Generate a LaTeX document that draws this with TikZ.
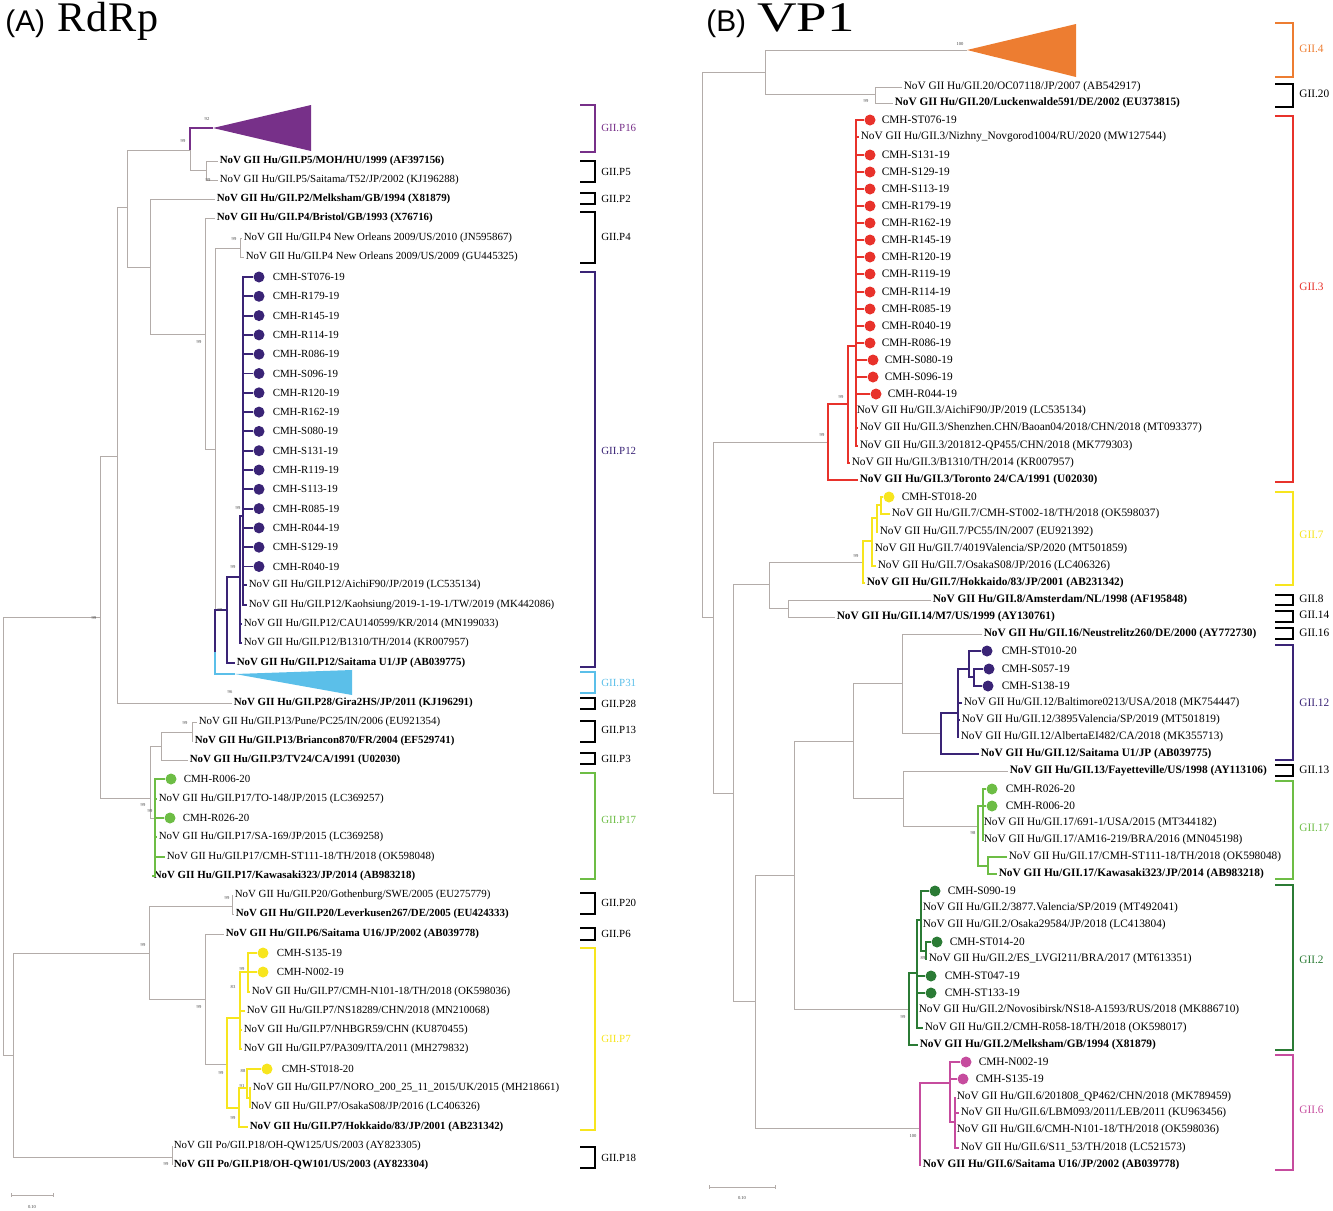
\documentclass[tikz,border=0pt]{standalone}
\usepackage{fontspec}
\setmainfont{Liberation Serif}
\newfontfamily\headsans{Liberation Sans}
\usetikzlibrary{calc}

\definecolor{grbr}{HTML}{B3ACA9}
\definecolor{pviolet}{HTML}{773089}
\definecolor{pindigo}{HTML}{3A2476}
\definecolor{pcyan}{HTML}{5BBFE9}
\definecolor{plime}{HTML}{6DBD45}
\definecolor{pyellow}{HTML}{F7E51E}
\definecolor{porange}{HTML}{ED7D31}
\definecolor{pred}{HTML}{E8322B}
\definecolor{pgreen}{HTML}{2B7B35}
\definecolor{pmagenta}{HTML}{C64C9E}

\tikzset{
  br/.style={draw=grbr, line width=0.55pt},
  cbr/.style={line width=1.1pt},
  leaf/.style={anchor=west, inner sep=0.8pt, font=\fontsize{6.2}{7}\selectfont},
  bleaf/.style={leaf, font=\fontsize{6.2}{7}\selectfont\bfseries},
  rleaf/.style={anchor=west, inner sep=0.8pt, font=\fontsize{6.45}{7}\selectfont},
  rbleaf/.style={rleaf, font=\fontsize{6.45}{7}\selectfont\bfseries},
  dot/.style={circle, inner sep=0pt, minimum size=0.22cm},
  bs/.style={font=\fontsize{2.6}{3}\selectfont, inner sep=0pt, text=black!75},
  brk/.style={line width=1.1pt},
  clab/.style={anchor=west, inner sep=0pt, font=\fontsize{6.2}{7}\selectfont},
  rclab/.style={anchor=west, inner sep=0pt, font=\fontsize{6.45}{7}\selectfont},
}

\begin{document}
\begin{tikzpicture}[x=0.02cm, y=-0.02cm]
\useasboundingbox (0,0) rectangle (1333,1211);

% headers
\node[anchor=base west, inner sep=0, font=\headsans\fontsize{17}{18}\selectfont] (hA) at (5,31) {(A)};
\node[anchor=base west, inner sep=0, font=\fontsize{24}{25}\selectfont\addfontfeatures{LetterSpace=2}] (hAt) at (57,31) {RdRp};
\node[anchor=base west, inner sep=0, font=\headsans\fontsize{17}{18}\selectfont] (hB) at (706,31) {(B)};
\node[anchor=base west, inner sep=0, font=\fontsize{24}{25}\selectfont] (hBt) at (757,31) {\scalebox{1.3}[1]{VP1}};

% ---------------- (A) RdRp ----------------
\coordinate (rA) at (3,836);
\coordinate (aQ) at (13,1055);
\coordinate (aD) at (100,617);
\coordinate (aC) at (117,456);
\coordinate (aJ) at (127,207);
\coordinate (aK) at (190,150);
\coordinate (aP5) at (206,170);
\coordinate (aL) at (150,267);
\coordinate (aA) at (205,334);
\coordinate (aB) at (215,449);
\coordinate (aP4) at (240,248);
\coordinate (aPP) at (215,652);
\coordinate (aP12) at (227,610);
\coordinate (aP12m) at (240,577);
\coordinate (lcomb) at (243,516);
\coordinate (aE) at (150,798);
\coordinate (aF) at (161,746);
\coordinate (aP13) at (192,732);
\coordinate (aP17) at (155,818);
\coordinate (aG) at (149,953);
\coordinate (aP20) at (232,906);
\coordinate (aH) at (205,999);
\coordinate (aP7) at (227,1064);
\coordinate (aP7g) at (240,1018);
\coordinate (aP7f) at (248,972);
\coordinate (aP7c) at (239,1108);
\coordinate (aP7d) at (247,1088);
\coordinate (aP7e) at (250,1098);
\coordinate (aP18) at (172,1157);
\coordinate (t16) at (213,128);
\coordinate (t31) at (235,674);

% collapsed clades
\fill[pviolet] (t16) -- (311,105) -- (311,151) -- cycle;
\fill[pcyan] (t31) -- (352,670) -- (352,695) -- cycle;

% leaves
\node[bleaf] (P5a) at (218,161) {NoV GII Hu/GII.P5/MOH/HU/1999 (AF397156)};
\node[leaf] (P5b) at (218,180) {NoV GII Hu/GII.P5/Saitama/T52/JP/2002 (KJ196288)};
\node[bleaf] (P2) at (215,199) {NoV GII Hu/GII.P2/Melksham/GB/1994 (X81879)};
\node[bleaf] (P4a) at (215,218) {NoV GII Hu/GII.P4/Bristol/GB/1993 (X76716)};
\node[leaf] (P4b) at (242,238) {NoV GII Hu/GII.P4 New Orleans 2009/US/2010 (JN595867)};
\node[leaf] (P4c) at (244,257) {NoV GII Hu/GII.P4 New Orleans 2009/US/2009 (GU445325)};
\node[leaf] (P12a) at (247,585) {NoV GII Hu/GII.P12/AichiF90/JP/2019 (LC535134)};
\node[leaf] (P12b) at (247,605) {NoV GII Hu/GII.P12/Kaohsiung/2019-1-19-1/TW/2019 (MK442086)};
\node[leaf] (P12c) at (242,624) {NoV GII Hu/GII.P12/CAU140599/KR/2014 (MN199033)};
\node[leaf] (P12d) at (242,643) {NoV GII Hu/GII.P12/B1310/TH/2014 (KR007957)};
\node[bleaf] (P12e) at (235,663) {NoV GII Hu/GII.P12/Saitama U1/JP (AB039775)};
\node[bleaf] (P28) at (232,703) {NoV GII Hu/GII.P28/Gira2HS/JP/2011 (KJ196291)};
\node[leaf] (P13a) at (197,722) {NoV GII Hu/GII.P13/Pune/PC25/IN/2006 (EU921354)};
\node[bleaf] (P13b) at (193,741) {NoV GII Hu/GII.P13/Briancon870/FR/2004 (EF529741)};
\node[bleaf] (P3) at (188,760) {NoV GII Hu/GII.P3/TV24/CA/1991 (U02030)};
\node[dot,fill=plime] (gdA) at (171,779) {};
\node[leaf] (gtA) at (182,779) {CMH-R006-20};
\node[leaf] (P17a) at (157,799) {NoV GII Hu/GII.P17/TO-148/JP/2015 (LC369257)};
\node[dot,fill=plime] (gdB) at (170,818) {};
\node[leaf] (gtB) at (181,818) {CMH-R026-20};
\node[leaf] (P17b) at (157,837) {NoV GII Hu/GII.P17/SA-169/JP/2015 (LC369258)};
\node[leaf] (P17c) at (165,857) {NoV GII Hu/GII.P17/CMH-ST111-18/TH/2018 (OK598048)};
\node[bleaf] (P17d) at (152,876) {NoV GII Hu/GII.P17/Kawasaki323/JP/2014 (AB983218)};
\node[leaf] (P20a) at (233,895) {NoV GII Hu/GII.P20/Gothenburg/SWE/2005 (EU275779)};
\node[bleaf] (P20b) at (234,914) {NoV GII Hu/GII.P20/Leverkusen267/DE/2005 (EU424333)};
\node[bleaf] (P6) at (224,934) {NoV GII Hu/GII.P6/Saitama U16/JP/2002 (AB039778)};
\node[dot,fill=pyellow] (ydS) at (263,953) {};
\node[leaf] (ytS) at (275,953) {CMH-S135-19};
\node[dot,fill=pyellow] (ydN) at (263,972) {};
\node[leaf] (ytN) at (275,972) {CMH-N002-19};
\node[leaf] (P7a) at (250,992) {NoV GII Hu/GII.P7/CMH-N101-18/TH/2018 (OK598036)};
\node[leaf] (P7b) at (245,1011) {NoV GII Hu/GII.P7/NS18289/CHN/2018 (MN210068)};
\node[leaf] (P7c) at (242,1030) {NoV GII Hu/GII.P7/NHBGR59/CHN (KU870455)};
\node[leaf] (P7d) at (242,1049) {NoV GII Hu/GII.P7/PA309/ITA/2011 (MH279832)};
\node[dot,fill=pyellow] (ydT) at (267,1069) {};
\node[leaf] (ytT) at (280,1069) {CMH-ST018-20};
\node[leaf] (P7e) at (251,1088) {NoV GII Hu/GII.P7/NORO\_200\_25\_11\_2015/UK/2015 (MH218661)};
\node[leaf] (P7f) at (249,1107) {NoV GII Hu/GII.P7/OsakaS08/JP/2016 (LC406326)};
\node[bleaf] (P7g) at (248,1127) {NoV GII Hu/GII.P7/Hokkaido/83/JP/2001 (AB231342)};
\node[leaf] (P18a) at (172,1146) {NoV GII Po/GII.P18/OH-QW125/US/2003 (AY823305)};
\node[bleaf] (P18b) at (172,1165) {NoV GII Po/GII.P18/OH-QW101/US/2003 (AY823304)};

% gray backbone
\draw[br] (rA) |- (aD) (rA) |- (aQ);
\draw[br] (aQ) |- (aG) (aQ) |- (aP18);
\draw[br] (aP18) |- (P18a.west) (aP18) |- (P18b.west);
\draw[br] (aD) |- (aC) (aD) |- (aE);
\draw[br] (aC) |- (aJ) (aC) |- (P28.west);
\draw[br] (aJ) |- (aK) (aJ) |- (aL);
\draw[br] (aK) |- (aP5);
\draw[br] (aP5) |- (P5a.west) (aP5) |- (P5b.west);
\draw[br] (aL) |- (P2.west) (aL) |- (aA);
\draw[br] (aA) |- (P4a.west) (aA) |- (aB);
\draw[br] (aB) |- (aP4) (aB) |- (aPP);
\draw[br] (aP4) |- (P4b.west) (aP4) |- (P4c.west);
\draw[br] (aE) |- (aF) (aE) |- (aP17);
\draw[br] (aF) |- (aP13) (aF) |- (P3.west);
\draw[br] (aP13) |- (P13a.west) (aP13) |- (P13b.west);
\draw[br] (aG) |- (aP20) (aG) |- (aH);
\draw[br] (aP20) |- (P20a.west) (aP20) |- (P20b.west);
\draw[br] (aH) |- (P6.west) (aH) |- (aP7);

% coloured clades
\draw[cbr,pviolet] (aK) |- (t16);
\draw[cbr,pcyan] (aPP) |- (t31);
\draw[cbr,pindigo] (aPP) |- (aP12);
\draw[cbr,pindigo] (aP12) |- (aP12m) (aP12) |- (P12e.west);
\draw[cbr,pindigo] (aP12m) |- (lcomb) (aP12m) |- (P12c.west) (aP12m) |- (P12d.west);
\draw[cbr,pindigo] (lcomb) |- (P12a.west) (lcomb) |- (P12b.west);
\foreach \nm [count=\i] in {ST076-19,R179-19,R145-19,R114-19,R086-19,S096-19,R120-19,R162-19,S080-19,S131-19,R119-19,S113-19,R085-19,R044-19,S129-19,R040-19}{
  \node[dot,fill=pindigo] (ld\i) at (259,{277+19.3*(\i-1)}) {};
  \node[leaf] (lt\i) at (271,{277+19.3*(\i-1)}) {CMH-\nm};
  \draw[cbr,pindigo] (lcomb) |- (ld\i.west);
}
\draw[cbr,plime] (aP17) |- (gdA.west) (aP17) |- (P17a.west) (aP17) -- (gdB.west)
  (aP17) |- (P17b.west) (aP17) |- (P17c.west) (aP17) |- (P17d.west);
\draw[cbr,pyellow] (aP7) |- (aP7g) (aP7) |- (aP7c);
\draw[cbr,pyellow] (aP7g) |- (aP7f) (aP7g) |- (P7b.west) (aP7g) |- (P7c.west) (aP7g) |- (P7d.west);
\draw[cbr,pyellow] (aP7f) |- (ydS.west) (aP7f) |- (ydN.west) (aP7f) |- (P7a.west);
\draw[cbr,pyellow] (aP7c) |- (aP7d) (aP7c) |- (P7g.west);
\draw[cbr,pyellow] (aP7d) |- (ydT.west) (aP7d) |- (aP7e);
\draw[cbr,pyellow] (aP7e) |- (P7e.west) (aP7e) |- (P7f.west);

% bootstrap values
\foreach \bx/\by/\bv [count=\i] in {207/119/92, 183/141/99, 208/180/99, 234/239/99, 199/342/99, 238/508/99,
  233/567/99, 220/610/99, 94/618/99, 230/692/96, 185/723/99, 143/805/99, 150/811/99, 227/898/99,
  143/945/99, 242/969/99, 233/987/83, 199/1007/99, 243/1071/88, 242/1086/91, 221/1073/99, 233/1118/99, 166/1164/99}{
  \node[bs] (bsa\i) at (\bx,\by) {\bv};
}

% genotype brackets
\foreach \ya/\yb/\ly/\lab/\col [count=\i] in {105/152/128/GII.P16/pviolet, 161/182/172/GII.P5/black,
  193/204/199/GII.P2/black, 212/263/237/GII.P4/black, 272/667/451/GII.P12/pindigo,
  672/693/683/GII.P31/pcyan, 698/709/704/GII.P28/black, 721/742/730/GII.P13/black,
  753/764/759/GII.P3/black, 773/879/820/GII.P17/plime, 893/914/903/GII.P20/black,
  928/940/934/GII.P6/black, 948/1130/1039/GII.P7/pyellow, 1147/1168/1158/GII.P18/black}{
  \draw[brk,draw=\col] (580,\ya) -- (595,\ya) -- (595,\yb) -- (580,\yb);
  \node[clab,text=\col] (ca\i) at (601,\ly) {\lab};
}

% scale bar
\coordinate (sa1) at (11,1195);
\coordinate (sa2) at (53,1195);
\draw[br] (sa1) -- (sa2) ($(sa1)+(0,-2)$) -- ($(sa1)+(0,2)$) ($(sa2)+(0,-2)$) -- ($(sa2)+(0,2)$);
\node[bs] (sal) at (32,1207) {0.10};

% ---------------- (B) VP1 ----------------
\coordinate (rB) at (702,345);
\coordinate (bR1) at (765,72);
\coordinate (bG20) at (875,94);
\coordinate (t4) at (967,50);
\coordinate (bX) at (713,617);
\coordinate (bY) at (733,793);
\coordinate (bZ) at (769,584);
\coordinate (bG814) at (788,608);
\coordinate (bW) at (755,1001);
\coordinate (bV) at (794,875);
\coordinate (bU) at (853,741);
\coordinate (bT1) at (902,683);
\coordinate (bT2) at (903,798);
\coordinate (bG3) at (828,442);
\coordinate (bG3b) at (848,404);
\coordinate (rcomb) at (856,346);
\coordinate (bG7) at (863,562);
\coordinate (bG7b) at (872,541);
\coordinate (bG7c) at (877,518);
\coordinate (bG7d) at (881,505);
\coordinate (bG12) at (941,733);
\coordinate (bG12b) at (958,713);
\coordinate (bG12c) at (969,669);
\coordinate (bG12d) at (974,677);
\coordinate (bG17) at (978,826);
\coordinate (bG17b) at (983,806);
\coordinate (bG17c) at (988,866);
\coordinate (bG2) at (909,1009);
\coordinate (bG2b) at (917,973);
\coordinate (bG2c) at (921,920);
\coordinate (bG2d) at (926,951);
\coordinate (bG6) at (920,1128);
\coordinate (bG6b) at (950,1083);
\coordinate (bG6c) at (955,1122);

\fill[porange] (t4) -- (1076,24) -- (1076,77) -- cycle;

% leaves
\node[rleaf] (G20a) at (902,87) {NoV GII Hu/GII.20/OC07118/JP/2007 (AB542917)};
\node[rbleaf] (G20b) at (893,103) {NoV GII Hu/GII.20/Luckenwalde591/DE/2002 (EU373815)};
\node[rleaf] (G3n) at (859,137) {NoV GII Hu/GII.3/Nizhny\_Novgorod1004/RU/2020 (MW127544)};
\node[rleaf] (G3a) at (855,411) {NoV GII Hu/GII.3/AichiF90/JP/2019 (LC535134)};
\node[rleaf] (G3b) at (858,428) {NoV GII Hu/GII.3/Shenzhen.CHN/Baoan04/2018/CHN/2018 (MT093377)};
\node[rleaf] (G3c) at (858,446) {NoV GII Hu/GII.3/201812-QP455/CHN/2018 (MK779303)};
\node[rleaf] (G3d) at (850,463) {NoV GII Hu/GII.3/B1310/TH/2014 (KR007957)};
\node[rbleaf] (G3e) at (858,480) {NoV GII Hu/GII.3/Toronto 24/CA/1991 (U02030)};
\node[dot,fill=pyellow] (bydA) at (889,497) {};
\node[rleaf] (bytA) at (900,497) {CMH-ST018-20};
\node[rleaf] (G7a) at (890,514) {NoV GII Hu/GII.7/CMH-ST002-18/TH/2018 (OK598037)};
\node[rleaf] (G7b) at (878,532) {NoV GII Hu/GII.7/PC55/IN/2007 (EU921392)};
\node[rleaf] (G7c) at (873,549) {NoV GII Hu/GII.7/4019Valencia/SP/2020 (MT501859)};
\node[rleaf] (G7d) at (876,566) {NoV GII Hu/GII.7/OsakaS08/JP/2016 (LC406326)};
\node[rbleaf] (G7e) at (865,583) {NoV GII Hu/GII.7/Hokkaido/83/JP/2001 (AB231342)};
\node[rbleaf] (G8) at (931,600) {NoV GII Hu/GII.8/Amsterdam/NL/1998 (AF195848)};
\node[rbleaf] (G14) at (835,617) {NoV GII Hu/GII.14/M7/US/1999 (AY130761)};
\node[rbleaf] (G16) at (982,634) {NoV GII Hu/GII.16/Neustrelitz260/DE/2000 (AY772730)};
\node[dot,fill=pindigo] (bpdA) at (987,651) {};
\node[rleaf] (bptA) at (1000,651) {CMH-ST010-20};
\node[dot,fill=pindigo] (bpdB) at (989,669) {};
\node[rleaf] (bptB) at (1000,669) {CMH-S057-19};
\node[dot,fill=pindigo] (bpdC) at (988,686) {};
\node[rleaf] (bptC) at (1000,686) {CMH-S138-19};
\node[rleaf] (G12a) at (962,703) {NoV GII Hu/GII.12/Baltimore0213/USA/2018 (MK754447)};
\node[rleaf] (G12b) at (960,720) {NoV GII Hu/GII.12/3895Valencia/SP/2019 (MT501819)};
\node[rleaf] (G12c) at (959,737) {NoV GII Hu/GII.12/AlbertaEI482/CA/2018 (MK355713)};
\node[rbleaf] (G12d) at (979,754) {NoV GII Hu/GII.12/Saitama U1/JP (AB039775)};
\node[rbleaf] (G13) at (1008,771) {NoV GII Hu/GII.13/Fayetteville/US/1998 (AY113106)};
\node[dot,fill=plime] (bldA) at (992,789) {};
\node[rleaf] (bltA) at (1004,789) {CMH-R026-20};
\node[dot,fill=plime] (bldB) at (992,806) {};
\node[rleaf] (bltB) at (1004,806) {CMH-R006-20};
\node[rleaf] (G17a) at (982,823) {NoV GII Hu/GII.17/691-1/USA/2015 (MT344182)};
\node[rleaf] (G17b) at (982,840) {NoV GII Hu/GII.17/AM16-219/BRA/2016 (MN045198)};
\node[rleaf] (G17c) at (1007,857) {NoV GII Hu/GII.17/CMH-ST111-18/TH/2018 (OK598048)};
\node[rbleaf] (G17d) at (997,874) {NoV GII Hu/GII.17/Kawasaki323/JP/2014 (AB983218)};
\node[dot,fill=pgreen] (bgdA) at (935,891) {};
\node[rleaf] (bgtA) at (946,891) {CMH-S090-19};
\node[rleaf] (G2a) at (921,908) {NoV GII Hu/GII.2/3877.Valencia/SP/2019 (MT492041)};
\node[rleaf] (G2b) at (921,925) {NoV GII Hu/GII.2/Osaka29584/JP/2018 (LC413804)};
\node[dot,fill=pgreen] (bgdB) at (937,942) {};
\node[rleaf] (bgtB) at (948,942) {CMH-ST014-20};
\node[rleaf] (G2c) at (927,959) {NoV GII Hu/GII.2/ES\_LVGI211/BRA/2017 (MT613351)};
\node[dot,fill=pgreen] (bgdC) at (931,976) {};
\node[rleaf] (bgtC) at (943,976) {CMH-ST047-19};
\node[dot,fill=pgreen] (bgdD) at (931,993) {};
\node[rleaf] (bgtD) at (943,993) {CMH-ST133-19};
\node[rleaf] (G2d) at (917,1010) {NoV GII Hu/GII.2/Novosibirsk/NS18-A1593/RUS/2018 (MK886710)};
\node[rleaf] (G2e) at (923,1028) {NoV GII Hu/GII.2/CMH-R058-18/TH/2018 (OK598017)};
\node[rbleaf] (G2f) at (918,1045) {NoV GII Hu/GII.2/Melksham/GB/1994 (X81879)};
\node[dot,fill=pmagenta] (bmdA) at (966,1062) {};
\node[rleaf] (bmtA) at (977,1062) {CMH-N002-19};
\node[dot,fill=pmagenta] (bmdB) at (963,1079) {};
\node[rleaf] (bmtB) at (974,1079) {CMH-S135-19};
\node[rleaf] (G6a) at (955,1097) {NoV GII Hu/GII.6/201808\_QP462/CHN/2018 (MK789459)};
\node[rleaf] (G6b) at (959,1113) {NoV GII Hu/GII.6/LBM093/2011/LEB/2011 (KU963456)};
\node[rleaf] (G6c) at (955,1130) {NoV GII Hu/GII.6/CMH-N101-18/TH/2018 (OK598036)};
\node[rleaf] (G6d) at (959,1148) {NoV GII Hu/GII.6/S11\_53/TH/2018 (LC521573)};
\node[rbleaf] (G6e) at (921,1165) {NoV GII Hu/GII.6/Saitama U16/JP/2002 (AB039778)};

% gray backbone
\draw[br] (rB) |- (bR1) (rB) |- (bX);
\draw[br] (bR1) |- (t4) (bR1) |- (bG20);
\draw[br] (bG20) |- (G20a.west) (bG20) |- (G20b.west);
\draw[br] (bX) |- (bG3) (bX) |- (bY);
\draw[br] (bY) |- (bZ) (bY) |- (bW);
\draw[br] (bZ) |- (bG7) (bZ) |- (bG814);
\draw[br] (bG814) |- (G8.west) (bG814) |- (G14.west);
\draw[br] (bW) |- (bV) (bW) |- (bG6);
\draw[br] (bV) |- (bU) (bV) |- (bG2);
\draw[br] (bU) |- (bT1) (bU) |- (bT2);
\draw[br] (bT1) |- (G16.west) (bT1) |- (bG12);
\draw[br] (bT2) |- (G13.west) (bT2) |- (bG17);

% GII.3
\draw[cbr,pred] (bG3) |- (bG3b) (bG3) |- (G3e.west);
\draw[cbr,pred] (bG3b) |- (rcomb) (bG3b) |- (G3d.west);
\draw[cbr,pred] (rcomb) |- (G3n.west) (rcomb) |- (G3a.west) (rcomb) |- (G3b.west) (rcomb) |- (G3c.west);
\foreach \nm/\yy/\dx [count=\i] in {ST076-19/120/870, S131-19/155/870, S129-19/172/870, S113-19/189/870,
  R179-19/206/870, R162-19/223/870, R145-19/240/870, R120-19/257/870, R119-19/274/870, R114-19/292/870,
  R085-19/309/870, R040-19/326/870, R086-19/343/870, S080-19/360/873, S096-19/377/873, R044-19/394/876}{
  \node[dot,fill=pred] (rd\i) at (\dx,\yy) {};
  \node[rleaf] (rt\i) at ({\dx+10},\yy) {CMH-\nm};
  \draw[cbr,pred] (rcomb) |- (rd\i.west);
}
% GII.7
\draw[cbr,pyellow] (bG7) |- (bG7b) (bG7) |- (G7e.west);
\draw[cbr,pyellow] (bG7b) |- (bG7c) (bG7b) |- (G7c.west) (bG7b) |- (G7d.west);
\draw[cbr,pyellow] (bG7c) |- (bG7d) (bG7c) |- (G7b.west);
\draw[cbr,pyellow] (bG7d) |- (bydA.west) (bG7d) |- (G7a.west);
% GII.12
\draw[cbr,pindigo] (bG12) |- (bG12b) (bG12) |- (G12d.west);
\draw[cbr,pindigo] (bG12b) |- (bG12c) (bG12b) |- (G12a.west) (bG12b) |- (G12b.west) (bG12b) |- (G12c.west);
\draw[cbr,pindigo] (bG12c) |- (bpdA.west) (bG12c) |- (bG12d);
\draw[cbr,pindigo] (bG12d) |- (bpdB.west) (bG12d) |- (bpdC.west);
% GII.17
\draw[cbr,plime] (bG17) |- (bG17b) (bG17) |- (bG17c);
\draw[cbr,plime] (bG17b) |- (bldA.west) (bG17b) |- (bldB.west) (bG17b) |- (G17a.west) (bG17b) |- (G17b.west);
\draw[cbr,plime] (bG17c) |- (G17c.west) (bG17c) |- (G17d.west);
% GII.2
\draw[cbr,pgreen] (bG2) |- (bG2b) (bG2) |- (G2f.west);
\draw[cbr,pgreen] (bG2b) |- (bG2c) (bG2b) |- (bgdC.west) (bG2b) |- (bgdD.west) (bG2b) |- (G2d.west) (bG2b) |- (G2e.west);
\draw[cbr,pgreen] (bG2c) |- (bgdA.west) (bG2c) |- (G2a.west) (bG2c) |- (G2b.west) (bG2c) |- (bG2d);
\draw[cbr,pgreen] (bG2d) |- (bgdB.west) (bG2d) |- (G2c.west);
% GII.6
\draw[cbr,pmagenta] (bG6) |- (bG6b) (bG6) |- (G6e.west);
\draw[cbr,pmagenta] (bG6b) |- (bmdA.west) (bG6b) |- (bmdB.west) (bG6b) |- (bG6c);
\draw[cbr,pmagenta] (bG6c) |- (G6a.west) (bG6c) |- (G6b.west) (bG6c) |- (G6c.west) (bG6c) |- (G6d.west);

% bootstrap values
\foreach \bx/\by/\bv [count=\i] in {960/44/100, 866/101/99, 841/397/99, 822/435/99, 856/556/99,
  973/833/98, 923/958/89, 903/1017/99, 913/1136/100}{
  \node[bs] (bsb\i) at (\bx,\by) {\bv};
}

% genotype brackets
\foreach \ya/\yb/\ly/\lab/\col [count=\i] in {23/77/49/GII.4/porange, 84/107/94/GII.20/black,
  116/482/287/GII.3/pred, 492/585/535/GII.7/pyellow, 595/605/599/GII.8/black,
  611/622/615/GII.14/black, 628/639/633/GII.16/black, 645/760/703/GII.12/pindigo,
  765/776/770/GII.13/black, 781/879/828/GII.17/plime, 885/1050/960/GII.2/pgreen,
  1055/1170/1110/GII.6/pmagenta}{
  \draw[brk,draw=\col] (1275,\ya) -- (1293,\ya) -- (1293,\yb) -- (1275,\yb);
  \node[rclab,text=\col] (cb\i) at (1299,\ly) {\lab};
}

% scale bar
\coordinate (sb1) at (709,1187);
\coordinate (sb2) at (775,1187);
\draw[br] (sb1) -- (sb2) ($(sb1)+(0,-2)$) -- ($(sb1)+(0,2)$) ($(sb2)+(0,-2)$) -- ($(sb2)+(0,2)$);
\node[bs] (sbl) at (742,1198) {0.10};
\end{tikzpicture}
\end{document}
